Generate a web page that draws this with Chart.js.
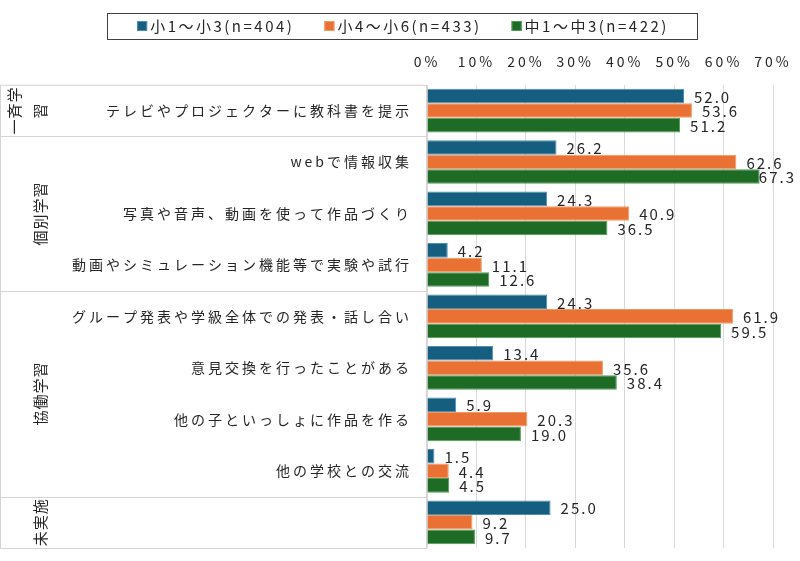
<!DOCTYPE html>
<html><head><meta charset="utf-8">
<script src="https://cdn.jsdelivr.net/npm/chart.js@4.4.1/dist/chart.umd.min.js"></script>
<style>html,body{margin:0;padding:0;background:#fff;}</style>
</head><body>
<canvas id="c" width="800" height="561"></canvas>
<script>
const categories = [
  'テレビやプロジェクターに教科書を提示',
  'webで情報収集',
  '写真や音声、動画を使って作品づくり',
  '動画やシミュレーション機能等で実験や試行',
  'グループ発表や学級全体での発表・話し合い',
  '意見交換を行ったことがある',
  '他の子といっしょに作品を作る',
  '他の学校との交流',
  ''
];
const groupNames = ['一斉学習', '個別学習', '協働学習', '未実施'];
const groupSizes = [1, 3, 4, 1];
const seriesNames = ['小1〜小3(n=404)', '小4〜小6(n=433)', '中1〜中3(n=422)'];
const grade1to3 = [52.0, 26.2, 24.3, 4.2, 24.3, 13.4, 5.9, 1.5, 25.0];
const grade4to6 = [53.6, 62.6, 40.9, 11.1, 61.9, 35.6, 20.3, 4.4, 9.2];
const juniorHigh = [51.2, 67.3, 36.5, 12.6, 59.5, 38.4, 19.0, 4.5, 9.7];
const xMin = 0, xMax = 70, xStep = 10;

const seriesColors = ['#165E80', '#E87133', '#1E6B26'];
const seriesBorders = ['#4f8fb3', '#f29a66', '#4f9a57'];
const FONT = '"Noto Sans CJK JP", "Noto Sans", sans-serif';
const TEXT = '#262626';

function setSpacing(chart, v) { try { chart.ctx.letterSpacing = v; } catch (e) {} }

const layoutPlugin = {
  id: 'layoutDeco',
  beforeUpdate(chart) { setSpacing(chart, '3px'); },
  beforeDraw(chart) {
    const ctx = chart.ctx;
    setSpacing(chart, '3px');
    const area = chart.chartArea;
    const y = chart.scales.y;
    ctx.save();
    ctx.fillStyle = '#fff';
    ctx.fillRect(0, 0, chart.width, chart.height);
    ctx.strokeStyle = '#d4d4d4';
    ctx.lineWidth = 1;
    const left = 0.5, right = area.left - 0.5;
    ctx.strokeRect(left, area.top + 0.5, right - left, area.bottom - area.top);
    let idx = 0;
    const bounds = [];
    groupSizes.forEach((n) => {
      const s = idx, e = idx + n - 1;
      const top = s === 0 ? area.top : (y.getPixelForValue(s - 1) + y.getPixelForValue(s)) / 2;
      const bot = e === categories.length - 1 ? area.bottom : (y.getPixelForValue(e) + y.getPixelForValue(e + 1)) / 2;
      bounds.push([top, bot]);
      idx += n;
    });
    bounds.forEach(([top], g) => {
      if (g > 0) {
        ctx.beginPath();
        ctx.moveTo(0, Math.round(top) + 0.5);
        ctx.lineTo(area.left, Math.round(top) + 0.5);
        ctx.stroke();
      }
    });
    ctx.font = '15px ' + FONT;
    try { ctx.letterSpacing = '1px'; } catch (e) {}
    ctx.fillStyle = TEXT;
    ctx.textAlign = 'center';
    ctx.textBaseline = 'middle';
    bounds.forEach(([top, bot], g) => {
      const name = groupNames[g];
      const avail = bot - top;
      const lines = [];
      let cur = '';
      for (const ch of name) {
        if (cur && ctx.measureText(cur + ch).width > avail) { lines.push(cur); cur = ch; }
        else cur += ch;
      }
      if (cur) lines.push(cur);
      const cy = (top + bot) / 2;
      ctx.save();
      ctx.beginPath();
      ctx.rect(0, top, area.left, bot - top);
      ctx.clip();
      lines.forEach((ln, i) => {
        const cx = 40 - (lines.length - 1 - i) * 26;
        ctx.save();
        ctx.translate(cx, cy);
        ctx.rotate(-Math.PI / 2);
        ctx.fillText(ln, 0, 0);
        ctx.restore();
      });
      ctx.restore();
    });
    ctx.restore();
    setSpacing(chart, '3px');
  },
  afterDatasetsDraw(chart) {
    const ctx = chart.ctx;
    ctx.save();
    try { ctx.letterSpacing = '2px'; } catch (e) {}
    ctx.font = '15px ' + FONT;
    ctx.fillStyle = TEXT;
    ctx.textAlign = 'left';
    ctx.textBaseline = 'middle';
    chart.data.datasets.forEach((ds, di) => {
      const meta = chart.getDatasetMeta(di);
      meta.data.forEach((bar, i) => {
        const txt = ds.data[i].toFixed(1);
        const w = ctx.measureText(txt).width;
        const x = Math.min(bar.x + 10, chart.width - w - 4);
        ctx.fillText(txt, x, bar.y + 1);
      });
    });
    // legend
    try { ctx.letterSpacing = '2.5px'; } catch (e) {}
    ctx.font = '15px ' + FONT;
    const box = 10, gapBox = 3, gapItem = 30;
    const widths = chart.data.datasets.map(ds => box + gapBox + ctx.measureText(ds.label).width);
    const total = widths.reduce((a, b) => a + b, 0) + gapItem * (widths.length - 1);
    let x = (chart.width - total) / 2 + 3;
    const ly = 26;
    ctx.strokeStyle = '#404040';
    ctx.lineWidth = 1;
    ctx.strokeRect(Math.round(x - 30) + 0.5, 13.5, Math.round(total + 58), 26);
    chart.data.datasets.forEach((ds, di) => {
      ctx.fillStyle = ds.backgroundColor;
      ctx.fillRect(x, ly - 5, box, box);
      ctx.strokeStyle = ds.borderColor;
      ctx.strokeRect(x + 0.5, ly - 4.5, box - 1, box - 1);
      ctx.fillStyle = TEXT;
      ctx.fillText(ds.label, x + box + gapBox, ly);
      x += widths[di] + gapItem;
    });
    ctx.restore();
  }
};

const datasets = [grade1to3, grade4to6, juniorHigh].map((vals, i) => ({
  label: seriesNames[i],
  data: vals,
  backgroundColor: seriesColors[i],
  borderColor: seriesBorders[i],
  borderWidth: 1,
  barPercentage: 1,
  categoryPercentage: 0.85
}));

new Chart(document.getElementById('c'), {
  type: 'bar',
  data: { labels: categories, datasets },
  options: {
    indexAxis: 'y',
    responsive: false,
    animation: false,
    devicePixelRatio: 1,
    layout: { padding: { top: 38, right: 27, bottom: 13, left: 0 } },
    plugins: { legend: { display: false }, tooltip: { enabled: false } },
    scales: {
      x: {
        position: 'top',
        min: xMin, max: xMax,
        ticks: { stepSize: xStep, callback: v => v + '%', font: { family: FONT, size: 14 }, color: TEXT, padding: 15, maxRotation: 0 },
        grid: { color: '#d9d9d9', drawTicks: false },
        border: { display: false },
        afterFit(scale) { scale.paddingLeft = 0; scale.paddingRight = 0; }
      },
      y: {
        ticks: { font: { family: FONT, size: 14 }, color: TEXT, padding: 7, autoSkip: false },
        grid: { display: false },
        border: { display: false },
        afterFit(scale) { scale.width = 427; scale.paddingTop = 0; scale.paddingBottom = 0; }
      }
    }
  },
  plugins: [layoutPlugin]
});
</script>
</body></html>
